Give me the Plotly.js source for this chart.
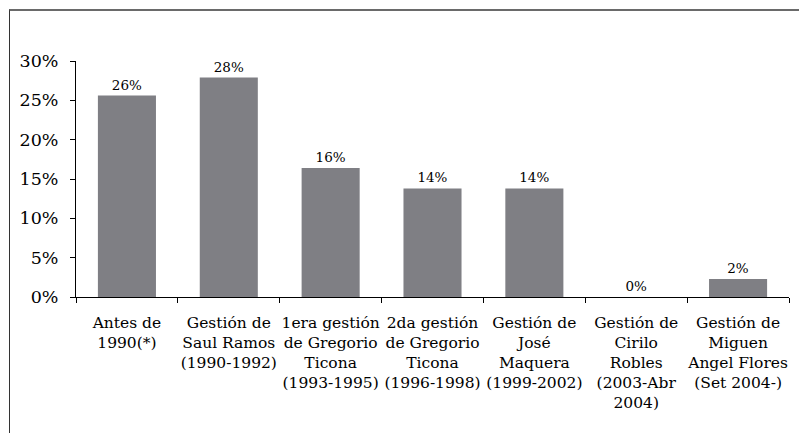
<!DOCTYPE html>
<html>
<head>
<meta charset="utf-8">
<script src="https://cdn.plot.ly/plotly-3.0.1.min.js"></script>
<style>
  html, body { margin: 0; padding: 0; background: #fff; }
  #wrap { position: relative; width: 799px; height: 433px; overflow: hidden; }
  #chart { position: absolute; left: 0; top: 0; width: 799px; height: 433px; }
  #frame { position: absolute; left: 9px; top: 9px; width: 820px; height: 460px;
           border-top: 2px solid #6a6a6a; border-left: 1px solid #333; pointer-events: none; }
</style>
</head>
<body>
<div id="wrap"><div id="chart"></div><div id="frame"></div></div>
<script>
const categories = [
  "Antes de<br>1990(*)",
  "Gestión de<br>Saul Ramos<br>(1990-1992)",
  "1era gestión<br>de Gregorio<br>Ticona<br>(1993-1995)",
  "2da gestión<br>de Gregorio<br>Ticona<br>(1996-1998)",
  "Gestión de<br>José<br>Maquera<br>(1999-2002)",
  "Gestión de<br>Cirilo<br>Robles<br>(2003-Abr<br>2004)",
  "Gestión de<br>Miguen<br>Angel Flores<br>(Set 2004-)"
];
const values = [25.6, 27.9, 16.4, 13.8, 13.8, 0, 2.3];
const valueLabels = values.map(v => Math.round(v) + "%");

const serif = "DejaVu Serif, serif";

Plotly.newPlot("chart", [{
  type: "bar",
  x: categories,
  y: values,
  text: valueLabels,
  texttemplate: "%{text}",
  textposition: "outside",
  cliponaxis: false,
  textfont: { family: serif, size: 13.5, color: "#000" },
  marker: { color: "#7f7f84", line: { width: 0 } },
  hoverinfo: "skip"
}], {
  width: 799, height: 433,
  margin: { l: 76, r: 10, t: 61, b: 136 },
  paper_bgcolor: "#fff", plot_bgcolor: "#fff",
  bargap: 0.43,
  showlegend: false,
  font: { family: serif, color: "#000" },
  xaxis: {
    type: "category",
    showline: true, linecolor: "#000", linewidth: 1,
    ticks: "outside", tickson: "boundaries", ticklen: 5, tickcolor: "#000",
    tickfont: { family: serif, size: 15.5, color: "#000" },
    tickangle: 0,
    ticklabelstandoff: 11,
    showgrid: false, zeroline: false, fixedrange: true
  },
  yaxis: {
    range: [0, 30], dtick: 5, ticksuffix: "%",
    showline: true, linecolor: "#000", linewidth: 1,
    ticks: "outside", ticklen: 5, tickcolor: "#000",
    tickfont: { family: serif, size: 17.5, color: "#000" },
    ticklabelstandoff: 8,
    showgrid: false, zeroline: false, fixedrange: true
  }
}, { displayModeBar: false, staticPlot: true });
</script>
</body>
</html>
